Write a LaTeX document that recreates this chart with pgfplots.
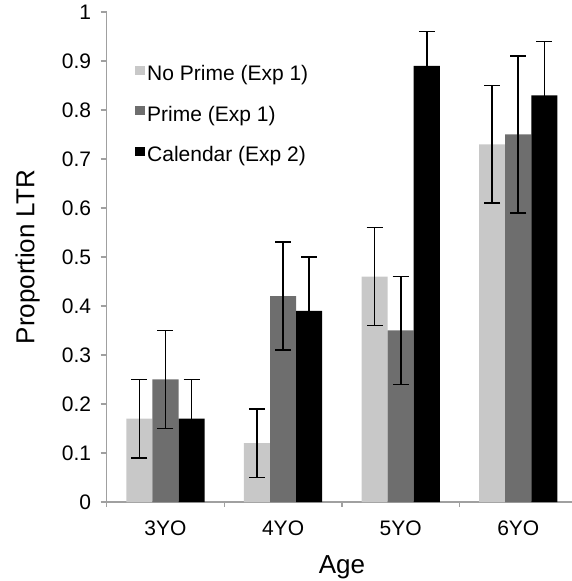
\documentclass[border=0pt]{standalone}
\usepackage{fontspec}
\setmainfont{Liberation Sans}
\usepackage{pgfplots}
\pgfplotsset{compat=1.18}
\usepackage{pgfplotstable}
\definecolor{cNo}{RGB}{200,200,200}
\definecolor{cPr}{RGB}{110,110,110}
\definecolor{axgray}{RGB}{160,160,160}

\pgfplotstableread{
x y e
0 0.17 0.08
1 0.12 0.07
2 0.46 0.10
3 0.73 0.12
}\tnoprime
\pgfplotstableread{
x y e
0 0.25 0.10
1 0.42 0.11
2 0.35 0.11
3 0.75 0.16
}\tprime
\pgfplotstableread{
x y e
0 0.17 0.08
1 0.39 0.11
2 0.89 0.07
3 0.83 0.11
}\tcalendar

\begin{document}
\begin{tikzpicture}
\path[use as bounding box] (-106.7pt,-79pt) rectangle (465.3pt,502pt);
\begin{axis}[
  scale only axis, width=465.3pt, height=490pt,
  at={(0pt,0pt)}, anchor=south west,
  xmin=-0.5, xmax=3.457, ymin=0, ymax=1,
  axis x line*=bottom, axis y line*=left,
  axis line style={axgray, line width=1.3pt, -},
  ybar=0pt, bar width=0.222,
  xtick={0,1,2,3}, xticklabels={3YO,4YO,5YO,6YO},
  minor xtick={-0.5,0.5,1.5,2.5},
  ytick={0,0.1,0.2,0.3,0.4,0.5,0.6,0.7,0.8,0.9,1},
  tick align=outside,
  major tick length=6pt, minor tick length=5pt,
  tick style={axgray, line width=1.3pt},
  major x tick style={draw=none},
  ticklabel style={font=\fontsize{21}{25}\selectfont},
  xticklabel style={yshift=-9pt},
  yticklabel style={xshift=-6pt},
  /pgf/number format/assume math mode=true,
  xlabel={Age}, ylabel={Proportion LTR},
  every axis x label/.style={at={(axis description cs:0.5055,-0.1449)}, anchor=base, font=\fontsize{26}{31}\selectfont},
  every axis y label/.style={at={(axis description cs:-0.170,0.5)}, rotate=90, anchor=center, font=\fontsize{26}{31}\selectfont},
  legend style={at={(axis description cs:0.0608,0.8918)}, anchor=north west,
    draw=none, fill=none, inner sep=0pt, row sep=20pt, column sep=0pt,
    font=\fontsize{21}{25}\selectfont,
    nodes={inner sep=0pt, text height=15.5pt, text depth=5pt},
    cells={anchor=base west}},
  mylegend/.style={legend image code/.code={\fill[##1] (0pt,6pt) rectangle (10pt,15pt); \path (12pt,0pt);}},
  error bars/error bar style={line width=1.7pt, black},
  error bars/error mark options={rotate=90, mark size=8pt, line width=1.7pt, black},
]
\addplot[fill=cNo, draw=none, mylegend, error bars/.cd, y dir=both, y explicit]
  table[x=x, y=y, y error=e] {\tnoprime};
\addplot[fill=cPr, draw=none, mylegend, error bars/.cd, y dir=both, y explicit]
  table[x=x, y=y, y error=e] {\tprime};
\addplot[fill=black, draw=none, mylegend, error bars/.cd, y dir=both, y explicit]
  table[x=x, y=y, y error=e] {\tcalendar};
\legend{No Prime (Exp 1), Prime (Exp 1), Calendar (Exp 2)}
\end{axis}
\end{tikzpicture}
\end{document}
